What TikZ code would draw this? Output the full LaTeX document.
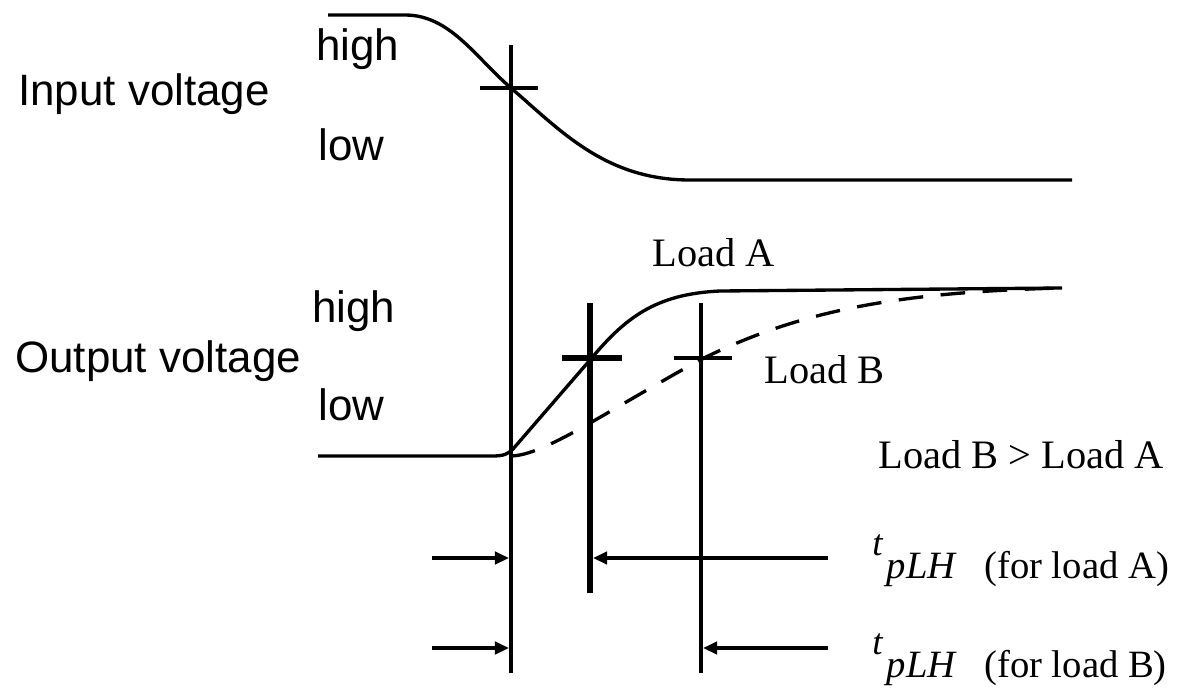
\documentclass[tikz,border=0pt]{standalone}
\usepackage{fontspec}
\setmainfont{Liberation Serif}
\setsansfont{Liberation Sans}
\usetikzlibrary{arrows.meta}

\begin{document}
\begin{tikzpicture}[x=0.02cm,y=-0.02cm]
	\tikzset{sig/.style={line width=1.9pt},
		mark line/.style={line width=2.3pt},
		bold/.style={line width=3.6pt},
		dim/.style={-{Triangle[length=8pt, width=7pt]}, line width=2.3pt},
		lvl/.style={font=\sffamily\fontsize{25}{30}\selectfont, anchor=base west, inner sep=0pt},
		lab/.style={font=\fontsize{23}{27}\selectfont, anchor=base west, inner sep=0pt}}
	\newcommand{\tplh}{\raisebox{13pt}{\fontsize{21}{24}\selectfont\textit{t}}\hspace{2pt}\textit{pLH}}
	\useasboundingbox (0,0) rectangle (1177,687);
	
	% level labels
	\node[lvl] (inname) at (18,105) {Input voltage};
	\node[lvl] (inhigh) at (316,60) {high};
	\node[lvl] (inlow) at (318,160) {low};
	\node[lvl] (outname) at (15,372) {Output voltage};
	\node[lvl] (outhigh) at (312,322) {high};
	\node[lvl] (outlow) at (318,420) {low};
	
	% input signal
	\draw[sig] (328,15) -- (405,15) .. controls (450,15) and (475,57) .. (511,88)
		.. controls (560,130) and (605,180) .. (690,180) -- (1072,180);
	
	% output signals, load A solid and load B dashed
	\draw[sig] (318,456) -- (492,456) .. controls (504,456) and (508,454) .. (513,449) -- (590,360)
		.. controls (625,318) and (655,294) .. (720,291) -- (1062,288);
	\draw[sig, dash pattern=on 14pt off 10pt] (511,456) .. controls (545,455) and (600,415) .. (700,360)
		.. controls (800,310) and (900,292) .. (1062,288);
	\node[lab] (loadA) at (652,266) {Load A};
	\node[lab] (loadB) at (764,383) {Load B};
	\node[lab] (cmp) at (878,468) {Load B > Load A};
	
	% 50% crossings
	\coordinate (inT) at (511,45);
	\coordinate (inB) at (511,673);
	\coordinate (aT) at (590,303);
	\coordinate (aB) at (590,593);
	\coordinate (bT) at (701,303);
	\coordinate (bB) at (701,673);
	\draw[mark line] (inT) -- (inB);
	\draw[bold] (aT) -- (aB);
	\draw[mark line] (bT) -- (bB);
	\draw[mark line] (480,88) -- (538,88);
	\draw[bold] (562,358) -- (622,358);
	\draw[mark line] (674,358) -- (732,358);
	
	% propagation delays
	\coordinate (a0) at (432,558);
	\coordinate (a1) at (509,558);
	\coordinate (a2) at (593,558);
	\coordinate (a3) at (828,558);
	\coordinate (b0) at (432,648);
	\coordinate (b1) at (509,648);
	\coordinate (b2) at (703,648);
	\coordinate (b3) at (828,648);
	\draw[dim] (a0) -- (a1);
	\draw[dim] (a3) -- (a2);
	\draw[dim] (b0) -- (b1);
	\draw[dim] (b3) -- (b2);
	\node[lab, font=\fontsize{22}{26}\selectfont] (tA) at (872,578) {\tplh\hspace{0.7em}(for load A)};
	\node[lab, font=\fontsize{22}{26}\selectfont] (tB) at (872,677) {\tplh\hspace{0.7em}(for load B)};
\end{tikzpicture}
\end{document}
